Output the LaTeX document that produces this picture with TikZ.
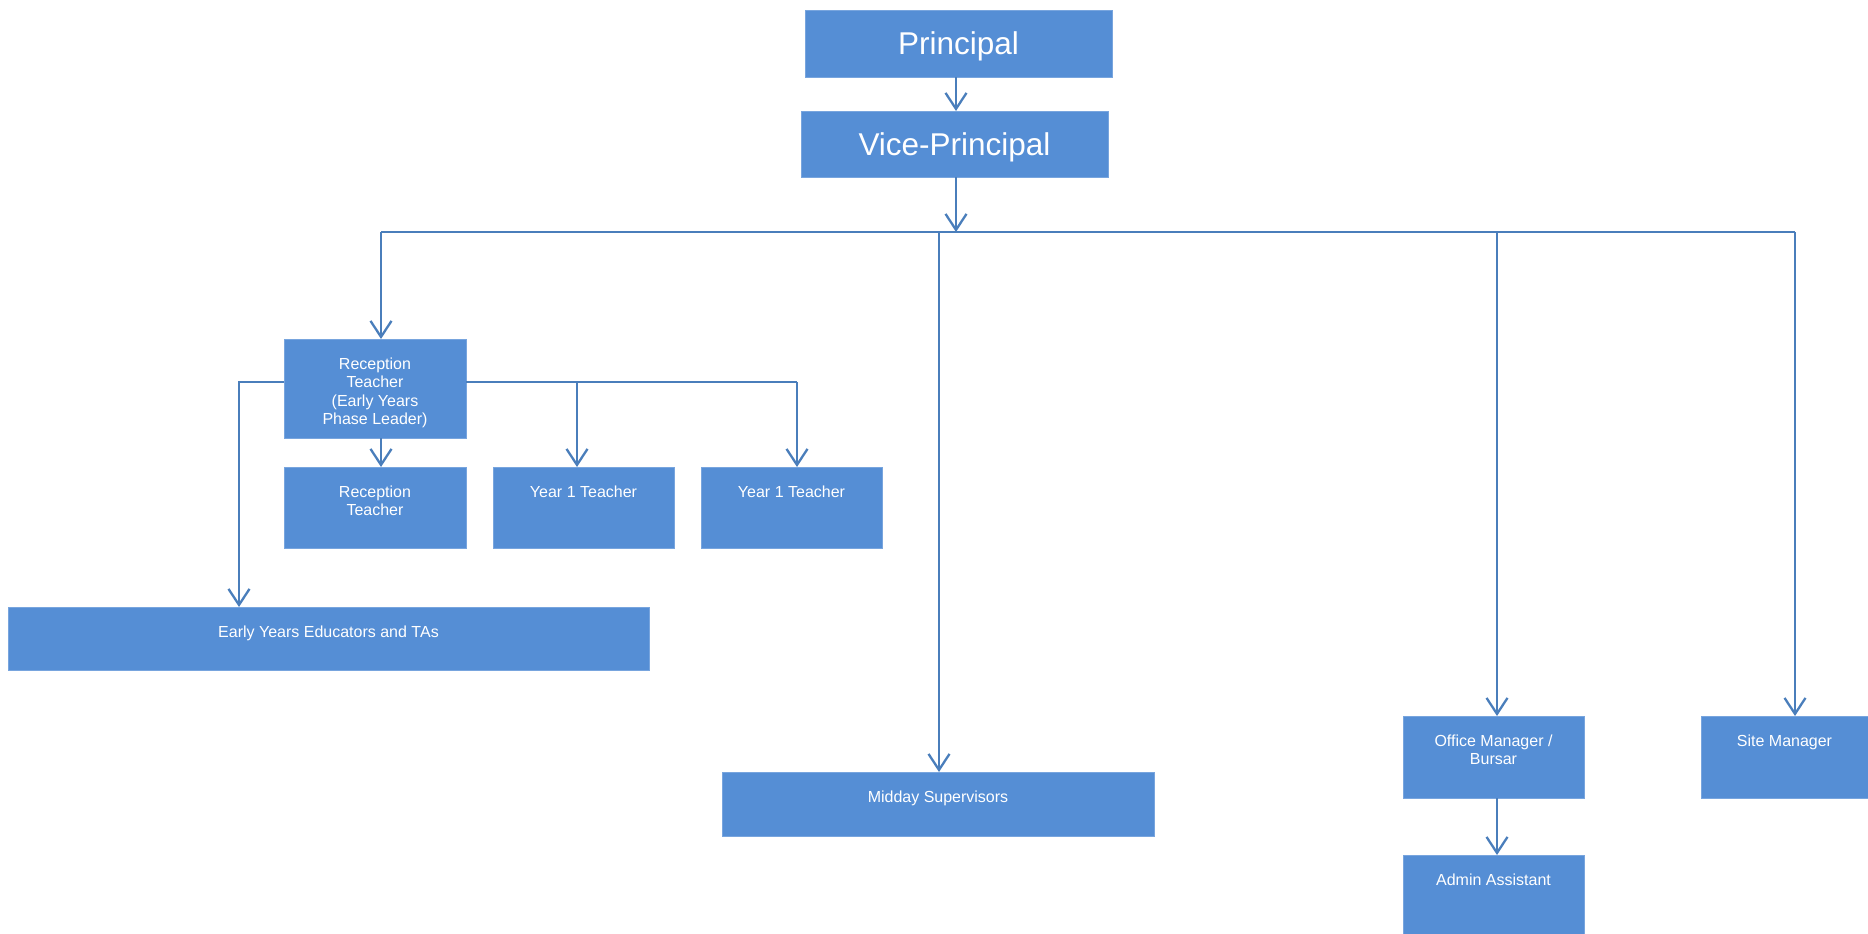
\documentclass[tikz,border=0pt]{standalone}
\usepackage{fontspec}
\setmainfont{Liberation Sans}
\usetikzlibrary{arrows.meta}

\definecolor{boxfill}{RGB}{85,142,213}
\definecolor{boxedge}{RGB}{120,165,222}
\definecolor{linkblue}{RGB}{74,126,187}

% box with its text set near the top: width, height, text
\newcommand{\toptext}[3]{\parbox[t][#2][t]{#1}{\centering\fontsize{16}{18.5}\selectfont\vspace*{18.5pt}#3\par}}

\tikzset{
  orgbox/.style={rectangle, fill=boxfill, draw=boxedge, line width=0.8pt,
    inner sep=0pt, outer sep=0pt, anchor=north west, text=white},
  headbox/.style={orgbox, text depth=0pt, font=\fontsize{31.5}{36}\selectfont},
  link/.style={draw=linkblue, line width=2.1pt},
  arr/.style={link, -{Straight Barb[length=16pt,width=21pt,line width=2.3pt]}},
}

\begin{document}
\begin{tikzpicture}[x=1pt,y=-1pt]
\useasboundingbox (0,0) rectangle (1868,934);

% leadership
\node[headbox, minimum width=307pt, minimum height=67pt] (prin) at (805,10) {Principal};
\node[headbox, minimum width=307pt, minimum height=66pt] (vice) at (801,111) {Vice-Principal};

% teaching staff
\node[orgbox] (rtl) at (284,339) {\toptext{182pt}{99pt}{Reception\\Teacher\\(Early Years\\Phase Leader)}};
\node[orgbox] (rt)  at (284,467) {\toptext{182pt}{81pt}{Reception\\Teacher}};
\node[orgbox] (ya)  at (493,467) {\toptext{181pt}{81pt}{Year 1 Teacher}};
\node[orgbox] (yb)  at (701,467) {\toptext{181pt}{81pt}{Year 1 Teacher}};
\node[orgbox] (ey)  at (8,607)   {\toptext{641pt}{63pt}{Early Years Educators and TAs}};

% support staff
\node[orgbox] (mid)    at (722,772)  {\toptext{432pt}{64pt}{Midday Supervisors}};
\node[orgbox] (office) at (1403,716) {\toptext{181pt}{82pt}{Office Manager /\\Bursar}};
\node[orgbox] (admin)  at (1403,855) {\toptext{181pt}{79pt}{Admin Assistant}};
\node[orgbox] (site)   at (1701,716) {\toptext{167pt}{82pt}{Site Manager}};

% spine and bus under the vice-principal
\coordinate (spine) at (956,0);
\coordinate (busL) at (381,232);
\coordinate (busM) at (939,232);
\coordinate (busO) at (1497,232);
\coordinate (busR) at (1795,232);

\draw[arr] (spine |- prin.south) -- (spine |- vice.north);
\draw[arr] (spine |- vice.south) -- (spine |- busL);
\draw[link] (busL) -- (busR);
\draw[arr] (busL) -- (busL |- rtl.north);
\draw[arr] (busM) -- (busM |- mid.north);
\draw[arr] (busO) -- (busO |- office.north);
\draw[arr] (busR) -- (busR |- site.north);

% early years phase
\coordinate (rtlR) at (466,382);
\coordinate (rtlL) at (284,382);
\coordinate (jA) at (577,382);
\coordinate (jB) at (797,382);
\coordinate (jE) at (239,382);
\coordinate (rtlB) at (381,438);

\draw[link] (rtlR) -- (jB);
\draw[arr] (jA) -- (jA |- ya.north);
\draw[arr] (jB) -- (jB |- yb.north);
\draw[arr] (rtlB) -- (rtlB |- rt.north);
\draw[arr] (rtlL) -- (jE) -- (jE |- ey.north);

% office
\draw[arr] (busO |- office.south) -- (busO |- admin.north);
\end{tikzpicture}
\end{document}
